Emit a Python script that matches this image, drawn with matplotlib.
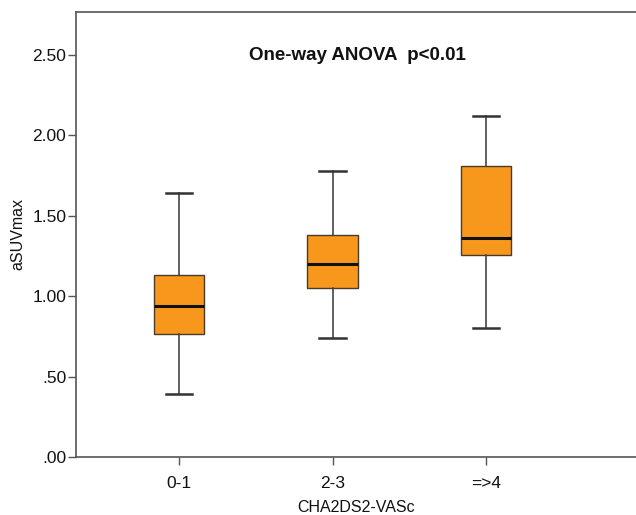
import matplotlib
matplotlib.use("Agg")
import matplotlib.pyplot as plt

plt.rcParams['font.family'] = ['Liberation Sans', 'DejaVu Sans']

categories = ["0-1", "2-3", "=>4"]
whislo = [0.392, 0.742, 0.804]
q1 = [0.765, 1.053, 1.256]
med = [0.939, 1.200, 1.364]
q3 = [1.132, 1.381, 1.810]
whishi = [1.644, 1.780, 2.123]
yticks = [0.0, 0.5, 1.0, 1.5, 2.0, 2.5]
ytick_labels = [".00", ".50", "1.00", "1.50", "2.00", "2.50"]

fig = plt.figure(figsize=(6.36, 5.15), dpi=100)
ax = fig.add_axes([76/636, 1 - 457/515, 1 - 76/636, (457 - 11.7)/515])

stats = []
for i, c in enumerate(categories):
    stats.append(dict(label=c, whislo=whislo[i], q1=q1[i], med=med[i],
                      q3=q3[i], whishi=whishi[i], fliers=[]))

ax.bxp(stats, positions=[1, 2, 3], widths=0.33, patch_artist=True,
       showfliers=False,
       boxprops=dict(facecolor="#F7981D", edgecolor="#4a3a2a", linewidth=1.0),
       medianprops=dict(color="#111111", linewidth=2.2),
       whiskerprops=dict(color="#444444", linewidth=1.2),
       capprops=dict(color="#333333", linewidth=1.8),
       capwidths=0.17)

ax.set_xlim(1 - 103/153.5, 3 + 150/153.5)
ax.set_ylim(0, 2.77)
ax.set_yticks(yticks)
ax.set_yticklabels(ytick_labels)
ax.set_xticks([1, 2, 3])
ax.set_xticklabels(categories)

for s in ["left", "bottom", "top"]:
    ax.spines[s].set_color("#555555")
    ax.spines[s].set_linewidth(1.2)
ax.spines["right"].set_visible(False)
ax.tick_params(axis="both", direction="out", length=6, width=1.0,
               color="#555555", labelsize=12.5, labelcolor="#111111")
ax.tick_params(axis="y", pad=1)
ax.tick_params(axis="x", pad=8)

ax.set_ylabel("aSUVmax", fontsize=11.5, color="#111111", labelpad=5)
ax.set_xlabel("CHA2DS2-VASc", fontsize=11.5, color="#111111", labelpad=6)

ax.text(357 / 636, 1 - 55 / 515, "One-way ANOVA  p<0.01",
        transform=fig.transFigure, fontsize=13.5,
        fontweight="bold", ha="center", va="center", color="#111111")

fig.savefig("out.png", dpi=100)
